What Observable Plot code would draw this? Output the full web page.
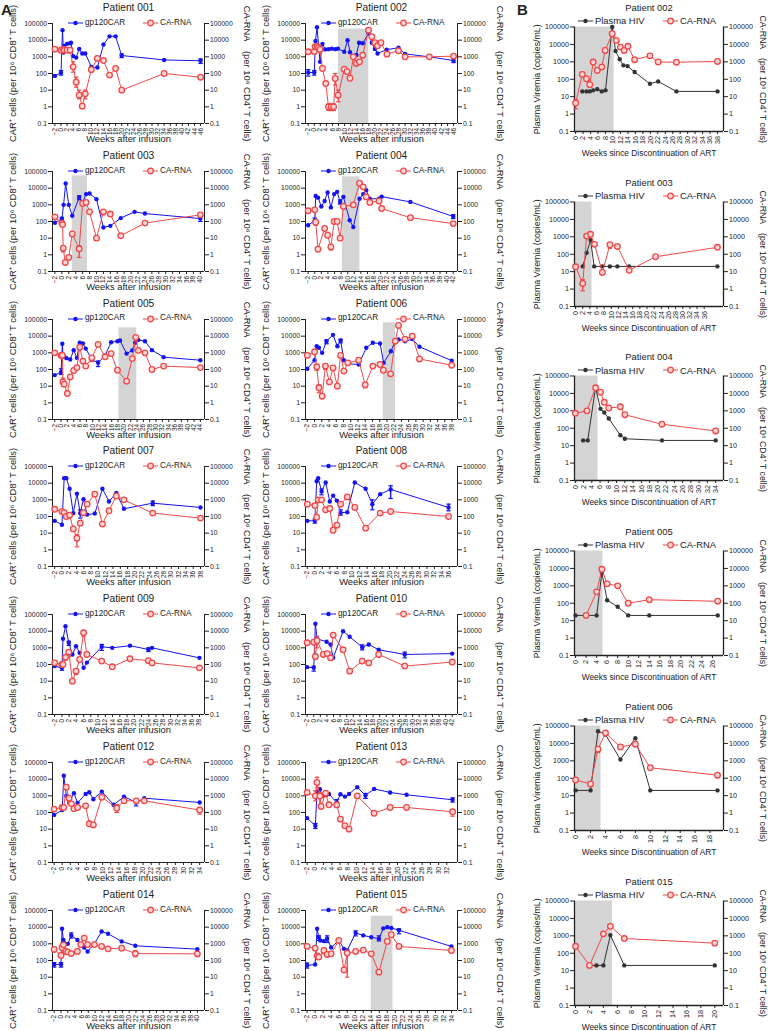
<!DOCTYPE html>
<html><head><meta charset="utf-8">
<script src="https://cdn.jsdelivr.net/npm/d3@7"></script>
<script src="https://cdn.jsdelivr.net/npm/@observablehq/plot@0.6"></script>
<style>
body{margin:0;background:#fff;font-family:"Liberation Sans",Arial,sans-serif;color:#222;}
#root{position:relative;width:768px;height:1031px;overflow:hidden;background:#fff;}
.panel{position:absolute;}
.panel svg{position:absolute;left:0;top:0;overflow:visible;}
.leg{position:absolute;display:flex;align-items:center;white-space:nowrap;line-height:1;}
.leg svg{position:static;margin-right:2px;}
.letter{position:absolute;font-weight:bold;font-size:15px;}
</style></head>
<body><div id="root"></div>
<script>
// ---------- shared ticks / labels ----------
const yTicks = [0.1, 1, 10, 100, 1000, 10000, 100000];
const leftTitleA = "CAR⁺ cells (per 10⁶ CD8⁺ T cells)";
const rightTitle = "CA-RNA\u2003(per 10⁶ CD4⁺ T cells)";
const leftTitleB = "Plasma Viremia (copies/mL)";
const xTitleA = "Weeks after infusion";
const xTitleB = "Weeks since Discontinuation of ART";
const seriesA = ["gp120CAR", "CA-RNA"];
const seriesB = ["Plasma HIV", "CA-RNA"];

// ---------- data: [week, value, errLow, errHigh] ----------
const p001_car = [[-2,72],[0,110,80,150],[0.5,40000],[0.8,1800],[1.1,4500],[2,6000],[3,6500],[3.3,7000],[4,1100],[5,900],[6,3000],[7,1600],[8,1600],[10,250],[12,230],[14,5500],[16,17000],[18,17000],[20,1200,900,1500],[34,650],[46,580,400,750]];
const p001_rna = [[-2,2900],[0,2500],[0.8,2900],[1.1,2500],[2,2500],[3,2500],[4,250,120,500],[5,30,15,60],[6,5,3,10],[7,1.1,0.8,1.5],[8,6,3,10],[10,170],[12,800],[14,600],[16,80],[18,200],[20,10],[34,100],[46,60]];

const p002_car = [[-2,115,70,170],[0,115,80,150],[0.4,9000],[0.9,60000],[1.9,500],[2.7,6000],[3.6,2800],[4.7,2900],[5.8,3100],[6.9,2900],[7.8,3100],[9.9,2000],[11,10000],[11.8,1900],[12.6,1100],[13.9,1300],[14.8,7000],[16,6500],[17.9,26000],[19,7000],[20,3000],[20.9,1600],[23.9,2700],[27.8,3500],[30,1500],[38,1000],[46,600,450,800]];
const p002_rna = [[-2,2000],[0,2100],[0.3,4000],[0.9,4200,3000,6000],[1.4,3600],[1.9,2800],[2.7,200],[3.8,25],[4.7,1,0.6,1.5],[5.6,1,0.6,1.5],[6.4,1,0.6,1.5],[6.9,50,20,100],[7.9,5,2,10],[9.9,180],[10.8,130],[11.8,52],[12.9,1000],[13.9,400],[14.9,500],[16,1250],[17.9,40000],[19,16000],[20,7000],[20.9,4600],[22,7000],[24,1450],[27.8,2300],[30,1000],[38,1000],[46,1100]];

const p003_car = [[-2,85],[0,140,90,180],[0.5,1000],[1.1,19000],[2,1000],[3,220],[5,2800,2000,3500],[6,1400],[7,4400],[8,4800],[10,2200],[12,44],[14,55],[17,160],[21,380],[24,300],[40,150,100,200]];
const p003_rna = [[-2,190],[0,80,60,100],[0.2,65],[0.4,2.5,1.5,3.5],[1,0.35],[2,0.7],[3,18],[5,2.3,0.7,3.5],[6,1200],[7,1400],[8,380],[10,10],[12,380,250,450],[14,280],[17,14],[24,80],[40,250]];

const p004_car = [[-2,60],[0,115,80,160],[0.3,3400],[1,2700],[2,800],[3,1700],[3.9,5500],[4.9,700],[5.9,4400],[6.8,6000],[7.7,1500,1100,2000],[8.7,3000],[10.6,120],[11.7,46],[13.6,2300],[14.7,4400],[15.6,7600],[16.7,2300],[19.5,2300],[20.3,3100],[29,1500],[42,200,150,260]];
const p004_rna = [[-2,440],[0,500],[0.3,90,60,110],[1,2.2],[3,38],[3.9,15],[4.9,3,2,4],[5.9,100],[6.8,100],[7.7,10],[8.7,800],[11.7,1000],[13.6,20000],[14.7,12000],[15.6,3000],[16.7,1400],[19.5,1700],[20.3,600],[29,170],[42,75,55,90]];

const p005_car = [[-2,46],[0,70,50,110],[0.4,3500],[0.6,700],[1,600],[1.7,480],[2.9,400],[4,1450],[5,500],[5.9,4000],[6.9,3700],[7.8,1800],[9.7,400],[11.7,250,150,320],[13.9,700],[15.8,4300],[17.8,5000],[18.6,5500],[20.7,900],[22.5,1400],[23.4,4000],[24.4,6000],[26.5,5000],[28.7,1450],[32.4,550],[44,360]];
const p005_rna = [[-2,1000],[0,700],[0.4,700],[0.6,18,10,30],[1,13],[2,3.6],[2.9,36],[4,87],[5,130],[5.9,2200],[6.9,320],[7.8,160],[9.7,500,300,700],[11.7,3200],[13.9,580],[15.8,900],[17.8,90],[20.7,20],[22.5,450],[23.6,8500],[24.4,1400],[26.5,1000],[28.7,100],[32.4,160],[44,130]];

const p006_car = [[-2,110],[0,360],[0.6,2500],[1.2,2000],[2.1,1000],[3.3,5000,3500,6000],[5.1,12000],[6.3,2500],[7.2,5500,4000,6500],[8.1,360],[9.2,220],[12.2,200],[14.3,2000],[16.1,4000],[18.1,3600],[19.1,250],[21.1,1250],[22.3,5000],[23.2,6300],[25,5000],[27,6600],[29,2300],[37.9,340]];
const p006_rna = [[-2,700],[0,1150],[0.6,145,90,200],[1.2,8,4,12],[2.1,2.5],[3,160,100,200],[4.1,18],[5.1,125],[6.3,10],[7.2,700],[8.1,80],[9.2,250,180,300],[12.2,360],[14,12,8,16],[16.1,160],[18.1,200],[19,90],[21,55],[22.3,5000],[23.2,44000],[25,6600],[27,10000],[29,430],[37.9,180]];

const p007_car = [[-2,55],[0,32],[0.6,20000],[1.2,20000],[2.1,4600],[3.1,160],[4.1,2300],[5,160,80,250],[5.9,1100],[6.9,130],[9,150],[11.1,4600],[12.9,800],[14.9,2600],[17,290],[24.9,630,450,850],[38,350]];
const p007_rna = [[-2,270],[0,200],[0.6,170],[1.2,100],[2.1,120],[3.1,18],[4.1,5,1.5,8],[5,40],[5.9,170],[6.9,550],[9,2200],[11.1,35],[12.9,220],[14.9,1700],[17,1000],[24.9,160],[38,80]];

const p008_car = [[-2,55],[0,55,40,70],[0.5,13000],[0.9,20000],[1.8,3200,2000,4500],[2.9,11000],[4,800],[4.9,1800],[5.9,900],[6.9,170,120,250],[8.7,180],[10.7,11000],[13.6,4600],[15.4,550,250,1000],[17.5,2200],[20.3,4200,1200,7000],[35.8,350,220,550]];
const p008_rna = [[-2,550],[0,450],[0.5,90],[0.9,1000],[1.8,1000],[2.9,250],[4,300],[4.9,15],[5.9,30],[6.9,550],[8.7,1500],[10.7,350],[13.6,20],[17.5,160],[20.3,200],[35.8,100]];

const p009_car = [[-2,80],[0,63,45,80],[0.3,3500],[1,20000],[1.9,2000,1400,2500],[2.9,400],[3.9,1250],[4.9,500],[6,63],[6.9,130],[11,1150,700,1600],[13.9,1000],[18.8,1350],[23.9,800,600,1000],[24.9,1000],[38,250]];
const p009_rna = [[-2,125],[0,100],[0.3,100],[1,270,180,350],[1.9,550,300,700],[2.9,10],[3.9,40,25,50],[4.9,200],[6,8000,5000,11000],[6.9,400],[11,160],[13.9,73],[18.8,220],[23.9,170],[24.9,125],[38,63]];

const p010_car = [[-2,70],[0,63,40,80],[0.5,28000],[1,3500],[3.9,2300],[5.1,1600],[5.9,250],[8.9,10000],[10.9,4600],[14.7,1100,750,1500],[16.7,1600],[19.7,760],[27.6,400,250,550],[42,450]];
const p010_rna = [[-2,2000],[0,2200],[0.5,300,200,400],[1,2700,1000,5000],[2.9,400],[4.1,450],[5.1,250,180,300],[5.9,5800],[8.9,760],[10.9,40],[14.7,160],[16.7,125],[19.7,400,300,500],[27.6,80],[42,140]];

const p012_car = [[-2,72],[0,140],[0.4,16000],[1,1000],[1.7,400],[2.9,1450],[3.8,380],[5.8,1300],[6.7,1650],[7.7,630],[9.8,1800],[12.7,290],[15.3,900],[18.3,400,250,600],[20.3,720],[34,400]];
const p012_rna = [[-2,160],[0,200],[0.4,200],[1,3300],[1.7,720,400,900],[2.3,330],[2.9,170],[3.8,200],[5.8,250],[6.7,21],[7.7,18],[9.8,830],[13.5,180,100,300],[15.3,500],[18.3,500,350,650],[20.3,500],[34,140,80,200]];

const p013_car = [[-2,46],[0,16,11,22],[0.4,1800],[1.1,2500],[1.7,1000],[2.5,1300,900,1700],[3.3,1300],[5.2,400,200,600],[6.1,1250],[7.2,900],[8.2,1300],[10.2,3300],[12.2,1050,700,1400],[14.3,2600],[18.2,1600],[22.2,1150],[33.4,580,420,750]];
const p013_rna = [[-2,1600],[0,1000,500,2000],[0.4,6300,3000,13000],[1.1,950,300,1500],[1.4,230],[2.5,1450],[3.3,290],[5.2,290],[6.1,40],[7.2,16],[8.2,10],[10.2,1000],[14.3,90],[18.2,200,150,260],[22.2,200],[33.4,110,60,150]];

const p014_car = [[-2,58,40,75],[0,58,40,75],[0.3,8000],[0.7,1700],[2,1000],[3,3200,2200,4500],[4.8,1700],[6.8,600],[7.8,350],[9.8,1000],[11.9,5500],[13.8,4000],[17.8,1400],[21.8,760],[40,480]];
const p014_rna = [[-2,460],[0,200],[0.3,580,300,900],[0.7,870],[1.4,350],[2,320],[3,260],[4.8,350],[5.8,900],[6.8,2200,1600,2800],[7.8,900],[9.8,900],[11.9,700],[13.8,500],[17.8,550],[21.8,260,170,400],[40,250,170,330]];

const p015_car = [[-2,50,35,70],[0,58],[0.5,8000],[0.9,2500,1600,3000],[1.3,1600],[2.2,1450],[3,2000,1200,3000],[4,600],[5.9,1600],[7.2,500],[8,400],[10.1,4500,3000,6000],[12,3200],[14,2500],[15.9,2000,1500,3000],[17,8500],[18,10000],[19,9000],[20.9,6500,4000,8000],[34,700]];
const p015_rna = [[-2,700],[0,550],[0.5,190],[0.9,160],[2.2,400,250,550],[3,230],[4,250],[5.9,1600],[7.2,27],[8,280,10,400],[10.1,350],[12,420],[14,250],[15.9,20],[18,1400],[19,3500],[20.9,700],[34,400]];

// Panel B
const b002_hiv = [[1.8,20],[2.9,20],[3.8,20],[4.7,23],[5.8,27],[7,20],[8,23],[9.8,100000],[10.7,4200],[11.8,1400],[12.8,630],[13.9,570],[15.8,260],[19.9,55],[22.1,75],[27,20],[38,20]];
const b002_rna = [[0,4.3,2,7],[1.8,190],[2.9,107],[3.8,49],[4.7,970],[5.8,320],[7,500],[7.9,4500],[9.8,41000],[10.9,17000],[12,7000],[13,4500],[14,7800],[15.8,1330],[19.9,2200],[22.1,980],[27,950],[38,1050]];
const b003_hiv = [[2,20],[3.1,120],[4.2,650],[5.2,20],[7.5,20],[9.6,20],[11.7,20],[15,20],[39.7,20]];
const b003_rna = [[0,19],[2,2.1,0.8,3.5],[3.1,1100],[4.2,1400],[5.3,370],[7.5,9],[9.6,350,220,450],[11.7,280],[15,12],[22.4,72],[39.7,250]];
const b004_hiv = [[1.9,20],[3,20],[4.9,22000],[6.1,1300],[7,800],[8.1,360],[10.9,40],[12,25],[21,20],[34,20]];
const b004_rna = [[0,720],[2.8,1000],[4.9,21000],[6.1,11700],[7,3100],[8.1,1450],[10.9,1700],[12,600],[21,170],[34,70,50,90]];
const b005_hiv = [[0,20],[2,20],[4,20],[5,5600],[6,150],[8,63],[10,20],[14,20],[27,20]];
const b005_rna = [[2,20],[4,450],[5,8900],[6,1300],[8,1000],[10,100],[14,160],[27,130]];
const b006_hiv = [[0,20],[2,20],[3,50000],[4,32000],[6,1200],[8,20000],[10,20],[19,20]];
const b006_rna = [[0,80],[2,47],[3,4700,3000,6000],[4,40000],[6,6300],[8,9000],[10,400],[19,150,110,180]];
const b015_hiv = [[2,20],[3,20],[4,20],[5,1100],[7,20],[20,20]];
const b015_rna = [[0,250,180,300],[2,20],[4,1300],[5,3500],[7,700],[20,380]];

// ---------- panel definitions (axis limits, shaded interval [x1, x2, top]) ----------
const panelsA = [
  {name:"Patient 001", s1:p001_car, s2:p001_rna, xDomain:[-2.8,47.3], xTicks:[-2,46], shade:null},
  {name:"Patient 002", s1:p002_car, s2:p002_rna, xDomain:[-2.9,47.3], xTicks:[-2,46], shade:[8,18,46000]},
  {name:"Patient 003", s1:p003_car, s2:p003_rna, xDomain:[-2.7,41.2], xTicks:[-2,40], shade:[3,7.4,55000]},
  {name:"Patient 004", s1:p004_car, s2:p004_rna, xDomain:[-2.8,43.3], xTicks:[-2,42], shade:[8.4,13.7,48000]},
  {name:"Patient 005", s1:p005_car, s2:p005_rna, xDomain:[-2.7,45.3], xTicks:[-2,44], shade:[18.3,23.9,31600]},
  {name:"Patient 006", s1:p006_car, s2:p006_rna, xDomain:[-2.5,39.5], xTicks:[-2,38], shade:[19,22.4,63000]},
  {name:"Patient 007", s1:p007_car, s2:p007_rna, xDomain:[-2.6,39.1], xTicks:[-2,38], shade:null},
  {name:"Patient 008", s1:p008_car, s2:p008_rna, xDomain:[-2.5,38.2], xTicks:[-2,36], shade:null},
  {name:"Patient 009", s1:p009_car, s2:p009_rna, xDomain:[-2.6,39.4], xTicks:[-2,38], shade:null},
  {name:"Patient 010", s1:p010_car, s2:p010_rna, xDomain:[-2.5,43.6], xTicks:[-2,42], shade:null},
  {name:"Patient 012", s1:p012_car, s2:p012_rna, xDomain:[-2.4,35.2], xTicks:[-2,34], shade:null},
  {name:"Patient 013", s1:p013_car, s2:p013_rna, xDomain:[-2.4,34.6], xTicks:[-2,32], shade:null},
  {name:"Patient 014", s1:p014_car, s2:p014_rna, xDomain:[-2.5,42.1], xTicks:[-2,40], shade:null},
  {name:"Patient 015", s1:p015_car, s2:p015_rna, xDomain:[-2.4,35.5], xTicks:[-2,34], shade:[14,19.4,46000]}
];
const panelsB = [
  {name:"Patient 002", s1:b002_hiv, s2:b002_rna, xDomain:[-0.3,39.6], xTicks:[0,38], shade:[0,10.3,100000]},
  {name:"Patient 003", s1:b003_hiv, s2:b003_rna, xDomain:[-0.3,41.4], xTicks:[0,36], shade:[0,4.6,100000]},
  {name:"Patient 004", s1:b004_hiv, s2:b004_rna, xDomain:[-0.2,35.9], xTicks:[0,34], shade:[0,5.5,100000]},
  {name:"Patient 005", s1:b005_hiv, s2:b005_rna, xDomain:[-0.2,28.1], xTicks:[0,26], shade:[0,5.2,100000]},
  {name:"Patient 006", s1:b006_hiv, s2:b006_rna, xDomain:[-0.15,19.8], xTicks:[0,18], shade:[0,3.4,100000]},
  {name:"Patient 015", s1:b015_hiv, s2:b015_rna, xDomain:[-0.15,21.25], xTicks:[0,20], shade:[0,5.3,100000]}
];

// ---------- style ----------
const BLUE = "#1414f0", RED = "#f04848", BLK = "#333333", AX = "#222222", SHADE = "#d4d4d4";
const FONT = "'Liberation Sans', Arial, sans-serif";
const capSymbol = {draw(ctx, size) { const w = Math.sqrt(size) / 2; ctx.moveTo(-w, 0); ctx.lineTo(w, 0); }};
const fmtY = d => String(d);
const fmtX = d => d < 0 ? "−" + (-d) : String(d);

const geomA = {width:262, height:148, ml:52, mr:58, mt:23, mb:25, fy:6.8, fx:6.4, ft:9.4, fxt:9.4, fTitle:10.2, fLeg:8.2,
  ldx:-40, rdx:43, xdy:15.5, tdy:-15.5, left:leftTitleA, xTitle:xTitleA, names:seriesA, c1:BLUE, legY:23, leg1:68, leg2:143, axw:1};
const geomB = {width:253, height:175, ml:59, mr:45, mt:26.5, mb:44, fy:7.2, fx:7.2, ft:8.8, fxt:8.4, fTitle:9.4, fLeg:9.4,
  ldx:-37, rdx:39, xdy:22, tdy:-19.5, left:leftTitleB, xTitle:xTitleB, names:seriesB, c1:BLK, legY:21, leg1:63, leg2:148, axw:1.3};

function swatch(color, red) {
  const ns = "http://www.w3.org/2000/svg";
  const s = document.createElementNS(ns, "svg");
  s.setAttribute("width", 15); s.setAttribute("height", 8);
  s.innerHTML = `<line x1="0" x2="15" y1="4" y2="4" stroke="${color}" stroke-width="1"/>` +
    (red ? `<circle cx="7.5" cy="4" r="2.8" fill="#ffd6d6" stroke="${color}" stroke-width="1.3"/>`
         : `<circle cx="7.5" cy="4" r="2.2" fill="${color}"/>`);
  return s;
}

function buildPanel(cfg, g, ox, oy) {
  const pts = a => a.map(d => ({x:d[0], y:d[1], lo:d[2], hi:d[3]}));
  const s1 = pts(cfg.s1), s2 = pts(cfg.s2);
  const e1 = s1.filter(d => d.lo != null), e2 = s2.filter(d => d.lo != null);
  const xt = d3.range(cfg.xTicks[0], cfg.xTicks[1] + 1e-9, 2);
  const marks = [];
  if (cfg.shade) marks.push(Plot.rect([cfg.shade], {x1: d => d[0], x2: d => d[1], y1: () => yTicks[0], y2: d => d[2], fill: SHADE}));
  marks.push(
    Plot.ruleY([yTicks[0]], {stroke: AX, strokeWidth: g.axw}),
    Plot.ruleX(cfg.xDomain, {stroke: AX, strokeWidth: g.axw}),
    Plot.axisY({anchor:"left", ticks:yTicks, tickFormat:fmtY, tickSize:4, tickPadding:1.5, fontSize:g.fy, label:null}),
    Plot.axisY({anchor:"right", ticks:yTicks, tickFormat:fmtY, tickSize:4, tickPadding:1.5, fontSize:g.fy, label:null}),
    Plot.axisX({ticks:xt, tickFormat:fmtX, tickRotate:-90, tickSize:3, tickPadding:1.5, fontSize:g.fx, label:null}),
    Plot.text([g.left], {frameAnchor:"left", rotate:-90, dx:g.ldx, fontSize:g.ft, textAnchor:"middle", lineAnchor:"middle", text:d => d}),
    Plot.text([rightTitle], {frameAnchor:"right", rotate:90, dx:g.rdx, fontSize:g.ft, textAnchor:"middle", lineAnchor:"middle", text:d => d}),
    Plot.text([g.xTitle], {frameAnchor:"bottom", dy:g.xdy, fontSize:g.fxt, textAnchor:"middle", lineAnchor:"middle", text:d => d}),
    Plot.text([cfg.name], {frameAnchor:"top", dy:g.tdy, fontSize:g.fTitle, textAnchor:"middle", lineAnchor:"middle", text:d => d}),
    // series 1
    Plot.line(s1, {x:"x", y:"y", stroke:g.c1, strokeWidth:1}),
    Plot.ruleX(e1, {x:"x", y1:"lo", y2:"hi", stroke:g.c1, strokeWidth:1.4}),
    Plot.dot(e1, {x:"x", y:"lo", symbol:capSymbol, r:2.5, stroke:g.c1, fill:"none", strokeWidth:1.2}),
    Plot.dot(e1, {x:"x", y:"hi", symbol:capSymbol, r:2.5, stroke:g.c1, fill:"none", strokeWidth:1.2}),
    Plot.dot(s1, {x:"x", y:"y", r:2.2, fill:g.c1}),
    // series 2 (CA-RNA)
    Plot.line(s2, {x:"x", y:"y", stroke:RED, strokeWidth:1}),
    Plot.ruleX(e2, {x:"x", y1:"lo", y2:"hi", stroke:RED, strokeWidth:1.4}),
    Plot.dot(e2, {x:"x", y:"lo", symbol:capSymbol, r:2.5, stroke:RED, fill:"none", strokeWidth:1.2}),
    Plot.dot(e2, {x:"x", y:"hi", symbol:capSymbol, r:2.5, stroke:RED, fill:"none", strokeWidth:1.2}),
    Plot.dot(s2, {x:"x", y:"y", r:2.8, stroke:RED, strokeWidth:1.3, fill:"#ffd6d6"})
  );
  const svg = Plot.plot({
    width:g.width, height:g.height,
    marginLeft:g.ml, marginRight:g.mr, marginTop:g.mt, marginBottom:g.mb,
    x:{domain:cfg.xDomain},
    y:{type:"log", domain:[yTicks[0], yTicks[yTicks.length - 1]]},
    style:{fontFamily:FONT, fontSize:g.fy + "px", color:"#222", background:"transparent", overflow:"visible"},
    marks
  });
  const div = document.createElement("div");
  div.className = "panel";
  div.style.left = ox + "px"; div.style.top = oy + "px";
  div.style.width = g.width + "px"; div.style.height = g.height + "px";
  div.appendChild(svg);
  [[g.names[0], g.c1, false, g.leg1], [g.names[1], RED, true, g.leg2]].forEach(([lab, col, red, lx]) => {
    const L = document.createElement("div");
    L.className = "leg";
    L.style.left = lx + "px"; L.style.top = (g.legY - 5) + "px"; L.style.height = "10px";
    L.style.fontSize = g.fLeg + "px";
    L.appendChild(swatch(col, red));
    const t = document.createElement("span"); t.textContent = lab; L.appendChild(t);
    div.appendChild(L);
  });
  document.getElementById("root").appendChild(div);
}

panelsA.forEach((p, i) => buildPanel(p, geomA, (i % 2) * 253, Math.floor(i / 2) * 147.8));
panelsB.forEach((p, i) => buildPanel(p, geomB, 515, i * 174.7));

const root = document.getElementById("root");
[["A", 1, 1], ["B", 517, 1]].forEach(([t, x, y]) => {
  const d = document.createElement("div"); d.className = "letter"; d.textContent = t;
  d.style.left = x + "px"; d.style.top = y + "px"; root.appendChild(d);
});
</script>
</body></html>
